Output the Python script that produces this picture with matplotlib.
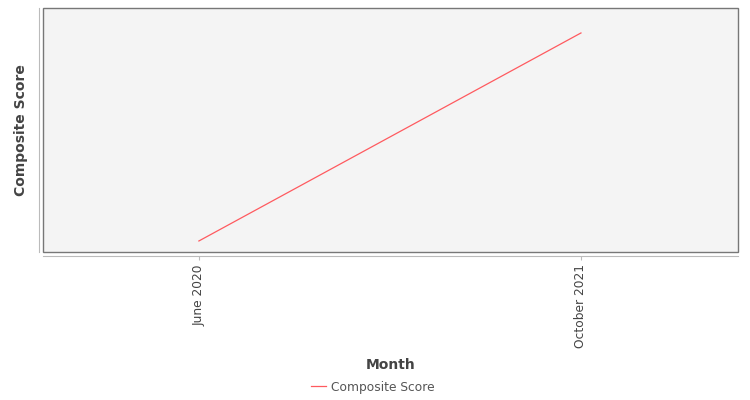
import matplotlib.pyplot as plt

# data
months = ["June 2020", "October 2021"]
scores = [0.0, 1.0]   # no y ticks shown, only relative level matters
series_name = "Composite Score"

fig = plt.figure(figsize=(7.5, 4), dpi=100)
ax = fig.add_axes([43 / 750, 1 - 252 / 400, 695 / 750, 244 / 400])

x = list(range(len(months)))
ax.plot(x, scores, color="#ff5a5f", linewidth=0.9, label=series_name)

# padding around the two points as in the reference
ax.set_xlim(-0.408, 1.411)
ax.set_ylim(-0.053, 1.12)

ax.set_facecolor("#f4f4f4")
ax.patch.set_edgecolor("#777777")
ax.patch.set_linewidth(1.0)

for side in ["top", "right"]:
    ax.spines[side].set_visible(False)
ax.spines["bottom"].set_position(("outward", 3.0))
ax.spines["left"].set_position(("outward", 2.6))
ax.spines["bottom"].set_color("#bbbbbb")
ax.spines["left"].set_color("#bbbbbb")

ax.set_xticks(x)
ax.set_xticklabels(months, rotation=90, fontsize=8.8, color="#444444")
ax.tick_params(axis="x", length=3, color="#bbbbbb", pad=3)
ax.set_yticks([])

ax.set_xlabel("Month", fontsize=10, fontweight="bold", color="#444444", labelpad=6.5)
ax.set_ylabel("Composite Score", fontsize=10, fontweight="bold", color="#444444", labelpad=8)

leg = fig.legend(loc="center", bbox_to_anchor=(373 / 750, 1 - 387 / 400), frameon=False,
                 fontsize=8.8, handlelength=1.2, handletextpad=0.4)
for t in leg.get_texts():
    t.set_color("#555555")

fig.savefig("out.png", dpi=100)
